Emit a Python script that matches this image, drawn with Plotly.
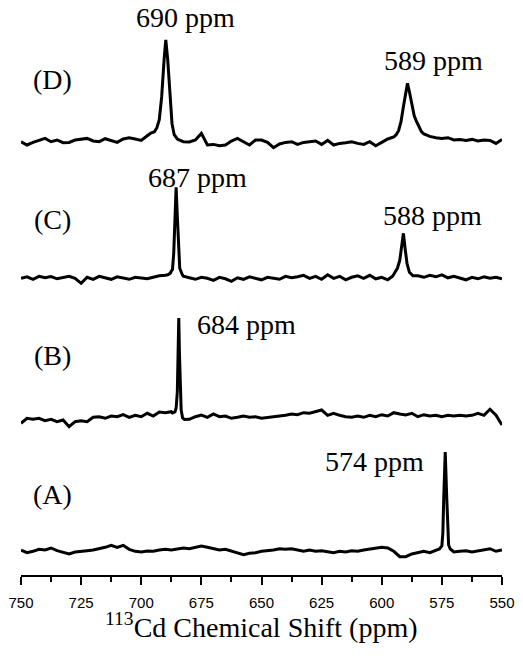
import plotly.graph_objects as go

# ---------------- data ----------------
# common baseline grid (ppm), 2.5 ppm spacing
ppm_grid = [750.0, 747.5, 745.0, 742.5, 740.0, 737.5, 735.0, 732.5, 730.0, 727.5,
            725.0, 722.5, 720.0, 717.5, 715.0, 712.5, 710.0, 707.5, 705.0, 702.5,
            700.0, 697.5, 695.0, 692.5, 690.0, 687.5, 685.0, 682.5, 680.0, 677.5,
            675.0, 672.5, 670.0, 667.5, 665.0, 662.5, 660.0, 657.5, 655.0, 652.5,
            650.0, 647.5, 645.0, 642.5, 640.0, 637.5, 635.0, 632.5, 630.0, 627.5,
            625.0, 622.5, 620.0, 617.5, 615.0, 612.5, 610.0, 607.5, 605.0, 602.5,
            600.0, 597.5, 595.0, 592.5, 590.0, 587.5, 585.0, 582.5, 580.0, 577.5,
            575.0, 572.5, 570.0, 567.5, 565.0, 562.5, 560.0, 557.5, 555.0, 552.5,
            550.0]

# baseline intensities (arbitrary units) on ppm_grid
base_D = [0, -3.3, -0.7, 1.7, 3.3, 0, 1.7, -1, -0.7, 1.7,
          2.3, 3.3, 0.7, 0, 3, 1.3, -0.7, 2.7, 4, 2.7,
          1.3, 6, 7.7, 0, 0, 0, 2.7, 0, -0.3, 1.7,
          8.3, -3.3, -2.7, -4, -3.3, 0.7, 3.3, 0, -3.3, 1.7,
          1.7, -0.7, -6, -2.3, -0.7, 0, -2.7, -0.7, 0, 0.7,
          -2.7, 1.3, -3.3, -1.7, -1, 0, -1.7, -2.7, 0, -4,
          -0.7, 2.7, 4.7, 0, 0, 0, 0, 7.7, 5.3, 4,
          3.3, 4, 1.7, 2.3, 1.3, 2.3, 0.7, 1.7, 1.3, -1.7,
          2.3]
base_C = [0, 1.5, -1, 2, 0.5, 1.7, -0.5, 1, 2, 0,
          -5, 1, -1, 2, 0.5, -1, 1.5, 0, -1, 1,
          0.5, -0.5, 1, 2.5, 3, 0, 0, 2, 0.5, -1,
          1, 0, -2, 1, -0.5, -3, 0.5, -1, 1.5, 0,
          -1.5, 1, 0, -1, 2, 0.5, 1.5, 3, 0, 2,
          -1, 3.5, 0, 2, -1.5, 1, 2.5, 0, 3, -0.5,
          1, -1.5, 1, 0, 0, 0, 2.5, 1, 3, 1.5,
          3.5, 0.5, 2, 0, -1.5, 1, -0.5, 1.5, 0, 1,
          -0.5]
base_B = [-3.3, 1.7, 0.7, 1.7, -0.7, 0.7, -1.7, 0, -6.7, -1.7,
          -0.7, -1.7, 2.7, 3.3, 1.7, 4, 3.3, 5.3, 2.7, 4.7,
          3.3, 6.7, 4, 8, 7.3, 8.3, 0, 0, 0.7, 3.3,
          5, 2.7, 6, 3.3, 4, 1.7, 2.7, 4, 2.7, 3.3,
          1.7, 2.3, 2.7, 4, 4.7, 6, 5.3, 7.3, 6.7, 8,
          10, 4.7, 6.7, 4.7, 3.3, 2.7, 4, 2.7, 4.7, 3.3,
          5.3, 4, 7.3, 6, 5, 6.7, 3.3, 5.3, 4, 4.7,
          3.3, 4.7, 4, 4.7, 4, 4.7, 6.7, 4.7, 10.7, 4.7,
          -5]
base_A = [1, -1.7, -0.3, 1.7, 1, 3, 0.3, -1.7, -3, -1,
          -0.7, 0.3, 1, 2.3, 3.7, 5.7, 3.7, 5.7, 1.7, -0.3,
          -1, 0, -0.3, 1, 1.7, 1, 2.3, 3, 2.3, 3.7,
          5, 3.7, 2.3, 1, 1.7, -0.3, -1.7, -3.7, -2.3, -1.7,
          -0.3, 0, 1, 2.3, 1.7, 2.3, 1, -0.3, 1, -0.3,
          0.3, -1, -1.7, -0.3, -1, 0.3, -0.3, 1, 1.7, 2.3,
          3.7, 3, -0.3, -5.7, -5.7, -3, -1.7, -0.3, -1.7, 1,
          0, 0, -1, -0.3, 0.3, -1, 0.3, 1, 2.3, -0.3,
          1]

# resonance lines (ppm, intensity)
peakD1_ppm = [696.0, 694.5, 693.5, 692.5, 691.5, 690.5, 689.8, 689.0, 688.0, 687.2, 686.3, 685.5]
peakD1_int = [8.7, 10, 14, 22, 45, 82, 101.7, 82, 42, 18, 7, 3.5]
peakD2_ppm = [594.0, 593.0, 592.0, 591.0, 590.0, 589.3, 588.5, 587.5, 586.5, 585.5, 584.5, 583.5]
peakD2_int = [7, 11, 20, 35, 50, 58.4, 50, 36, 26, 20, 14, 10]
peakC1_ppm = [689.0, 688.0, 687.0, 686.5, 686.0, 685.5, 685.0, 684.5, 684.0, 683.0]
peakC1_int = [3.5, 5, 9, 25, 62, 91, 62, 25, 10, 4]
peakC2_ppm = [595.5, 594.5, 593.5, 592.5, 591.8, 591.0, 590.3, 589.5, 588.5, 587.0]
peakC2_int = [2, 6, 10, 18, 32, 45, 30, 15, 6, 2.5]
peakB_ppm = [687.0, 686.0, 685.5, 685.0, 684.7, 684.4, 684.1, 683.8, 683.4, 682.8, 682.0]
peakB_int = [7, 8, 12, 28, 65, 102, 65, 28, 10, 2, 0.5]
peakA_ppm = [577.0, 576.0, 575.0, 574.6, 574.2, 573.6, 573.0, 572.6, 572.2, 571.5, 570.5]
peakA_int = [1, 2, 5, 18, 55, 99, 55, 18, 6, 2, 0]

spectrum_labels = ["(A)", "(B)", "(C)", "(D)"]
peak_labels = {"(D)": ["690 ppm", "589 ppm"],
               "(C)": ["687 ppm", "588 ppm"],
               "(B)": ["684 ppm"],
               "(A)": ["574 ppm"]}
tick_vals = [750, 725, 700, 675, 650, 625, 600, 575, 550]
x_title = "<sup>113</sup>Cd Chemical Shift (ppm)"

# ---------------- layout / styling (not data) ----------------
offsets = {"(D)": 433.3, "(C)": 296.7, "(B)": 155.0, "(A)": 24.0}
peak_label_pos = {"690 ppm": (681.8, 558), "589 ppm": (578.3, 515),
                  "687 ppm": (676.8, 398), "588 ppm": (578.7, 360),
                  "684 ppm": (656.4, 251), "574 ppm": (603.2, 114)}
spec_label_y = {"(D)": 496, "(C)": 356, "(B)": 220, "(A)": 81}


def build(base, peaks):
    pts = []
    ranges = [(min(p), max(p)) for p, _ in peaks]
    for x, y in zip(ppm_grid, base):
        if any(lo < x < hi for lo, hi in ranges):
            continue
        pts.append((x, y))
    for p, v in peaks:
        pts.extend(zip(p, v))
    pts.sort(key=lambda t: -t[0])
    return [t[0] for t in pts], [t[1] for t in pts]


spectra = {
    "(D)": build(base_D, [(peakD1_ppm, peakD1_int), (peakD2_ppm, peakD2_int)]),
    "(C)": build(base_C, [(peakC1_ppm, peakC1_int), (peakC2_ppm, peakC2_int)]),
    "(B)": build(base_B, [(peakB_ppm, peakB_int)]),
    "(A)": build(base_A, [(peakA_ppm, peakA_int)]),
}

fig = go.Figure()
for name in spectrum_labels:
    xs, ys = spectra[name]
    fig.add_trace(go.Scatter(x=xs, y=[v + offsets[name] for v in ys], mode="lines",
                             line=dict(color="black", width=3), showlegend=False,
                             hoverinfo="skip"))

serif = "Liberation Serif, Times New Roman, serif"
ann = []
for name in spectrum_labels:
    ann.append(dict(x=737.1, y=spec_label_y[name], xref="x", yref="y", text=name,
                    showarrow=False, font=dict(family=serif, size=28, color="black"),
                    xanchor="center", yanchor="middle"))
    for txt in peak_labels[name]:
        px, py = peak_label_pos[txt]
        ann.append(dict(x=px, y=py, xref="x", yref="y", text=txt, showarrow=False,
                        font=dict(family=serif, size=28, color="black"),
                        xanchor="center", yanchor="middle"))
ann.append(dict(x=0.5, y=-0.088, xref="paper", yref="paper", text=x_title,
                showarrow=False, font=dict(family=serif, size=28, color="black"),
                xanchor="center", yanchor="middle"))

fig.update_layout(
    width=523, height=663,
    margin=dict(l=21, r=21, t=0, b=88),
    plot_bgcolor="white", paper_bgcolor="white",
    annotations=ann,
    xaxis=dict(range=[750, 550], showgrid=False, zeroline=False,
               showline=True, linecolor="black", linewidth=2,
               ticks="outside", ticklen=8, tickwidth=2, tickcolor="black",
               tickvals=tick_vals, ticktext=[str(v) for v in tick_vals],
               ticklabelstandoff=5,
               tickfont=dict(family="Liberation Sans, Arial, sans-serif", size=15, color="black"),
               minor=dict(dtick=12.5, tick0=550, ticks="outside", ticklen=5,
                          tickwidth=2, tickcolor="black"),
               fixedrange=True),
    yaxis=dict(range=[0, 575], visible=False, fixedrange=True),
)

fig.write_html("out.html", config={"displayModeBar": False},
               post_script="document.body.style.margin='0';document.body.style.overflow='hidden';")
